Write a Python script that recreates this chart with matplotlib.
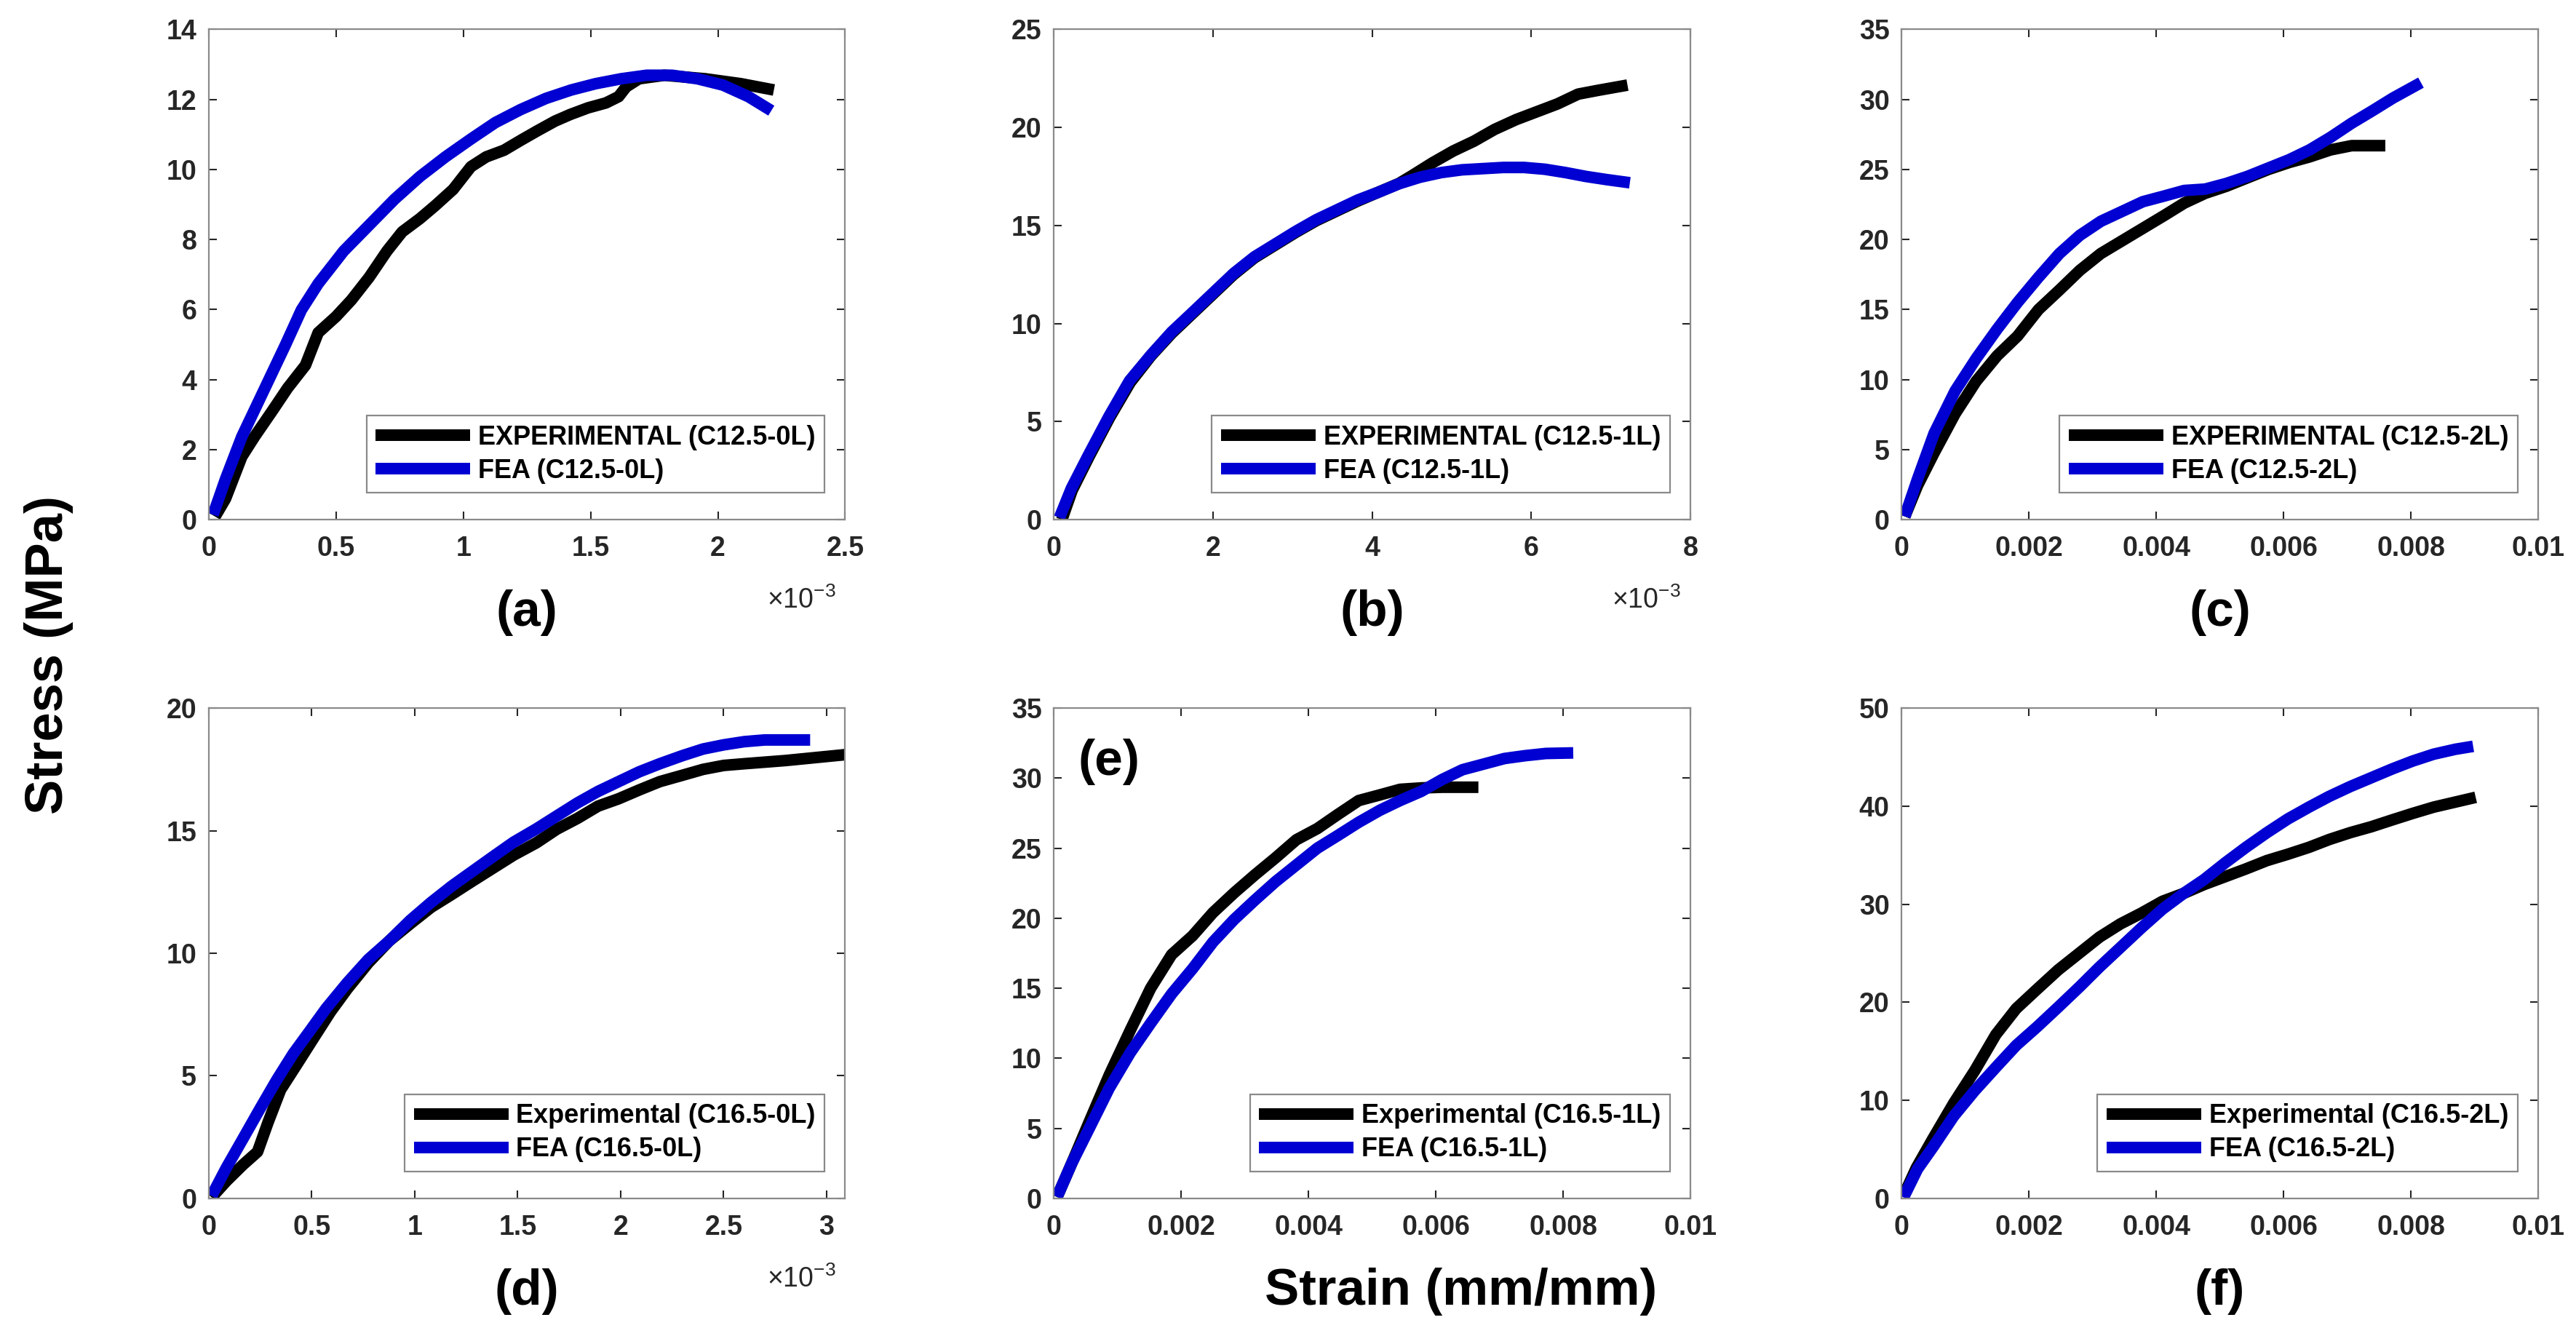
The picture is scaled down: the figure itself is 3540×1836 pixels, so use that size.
import matplotlib
matplotlib.use("Agg")
import matplotlib.pyplot as plt
from matplotlib.ticker import FuncFormatter, MultipleLocator

plt.rcParams['font.family'] = ['Liberation Sans', 'DejaVu Sans']
plt.rcParams['mathtext.fontset'] = 'custom'
plt.rcParams['mathtext.rm'] = 'Liberation Sans'

# ---------------- data (strain in mm/mm, stress in MPa) ----------------
# (a) C12.5-0L
a_exp_x = [0.000025, 0.000066, 0.00013, 0.00018, 0.00025, 0.00031, 0.00038, 0.00043, 0.0005, 0.00056,
           0.00063, 0.0007, 0.00076, 0.00083, 0.00089, 0.00096, 0.00103, 0.00109, 0.00116, 0.001225,
           0.00129, 0.00136, 0.00142, 0.00149, 0.00156, 0.00161, 0.00164, 0.00169, 0.00179, 0.00195,
           0.00209, 0.00222]
a_exp_y = [0.09, 0.6, 1.8, 2.37, 3.11, 3.76, 4.41, 5.34, 5.8, 6.27,
           6.92, 7.67, 8.22, 8.6, 8.97, 9.43, 10.08, 10.36, 10.55, 10.83,
           11.1, 11.38, 11.57, 11.76, 11.9, 12.08, 12.36, 12.59, 12.69, 12.59,
           12.45, 12.27]
a_fea_x = [0.000017, 0.000066, 0.00013, 0.000215, 0.0003, 0.000364, 0.00043, 0.00053, 0.00063, 0.00073,
           0.00083, 0.00093, 0.00103, 0.001126, 0.001225, 0.001325, 0.001424, 0.00152, 0.00162, 0.00172,
           0.00182, 0.00192, 0.00202, 0.00212, 0.00221]
a_fea_y = [0.14, 1.16, 2.37, 3.67, 4.97, 5.99, 6.74, 7.67, 8.41, 9.15,
           9.8, 10.36, 10.87, 11.34, 11.71, 12.03, 12.27, 12.45, 12.59, 12.69,
           12.69, 12.59, 12.41, 12.08, 11.68]

# (b) C12.5-1L
b_exp_x = [0.0001, 0.00023, 0.00044, 0.0007, 0.00096, 0.00122, 0.00148, 0.00174, 0.002, 0.00226,
           0.00252, 0.00278, 0.00304, 0.0033, 0.00356, 0.00382, 0.00408, 0.00434, 0.0045, 0.00476,
           0.00502, 0.00528, 0.00554, 0.00581, 0.00607, 0.00633, 0.00659, 0.00685, 0.00721]
b_exp_y = [0.0, 1.5, 3.2, 5.2, 7.0, 8.35, 9.5, 10.5, 11.5, 12.5,
           13.35, 14.0, 14.65, 15.25, 15.75, 16.25, 16.7, 17.15, 17.54, 18.2,
           18.8, 19.3, 19.9, 20.4, 20.8, 21.2, 21.7, 21.9, 22.16]
b_fea_x = [0.00007, 0.00022, 0.00043, 0.00069, 0.00095, 0.00122, 0.00148, 0.00174, 0.002, 0.00226,
           0.00252, 0.00278, 0.00304, 0.0033, 0.00356, 0.00382, 0.00408, 0.00434, 0.0046, 0.00487,
           0.00513, 0.00539, 0.00565, 0.00591, 0.00617, 0.00643, 0.00669, 0.00695, 0.00724]
b_fea_y = [0.1, 1.6, 3.26, 5.25, 7.08, 8.4, 9.57, 10.56, 11.56, 12.56,
           13.4, 14.05, 14.7, 15.3, 15.8, 16.3, 16.7, 17.13, 17.46, 17.7,
           17.84, 17.9, 17.96, 17.96, 17.87, 17.7, 17.5, 17.34, 17.18]

# (c) C12.5-2L
c_exp_x = [0.00005, 0.00025, 0.00051, 0.00084, 0.00117, 0.0015, 0.00182, 0.00215, 0.00248, 0.0028,
           0.00313, 0.00346, 0.00379, 0.00412, 0.00444, 0.00477, 0.0051, 0.00543, 0.00576, 0.00609,
           0.00641, 0.00674, 0.00707, 0.0076]
c_exp_y = [0.23, 2.44, 4.77, 7.56, 9.88, 11.7, 13.1, 15.0, 16.4, 17.8,
           19.0, 19.9, 20.8, 21.7, 22.6, 23.3, 23.8, 24.4, 25.0, 25.5,
           25.9, 26.4, 26.7, 26.7]
c_fea_x = [0.00005, 0.00025, 0.00051, 0.00084, 0.00117, 0.0015, 0.00182, 0.00215, 0.00248, 0.0028,
           0.00313, 0.00346, 0.00379, 0.00412, 0.00444, 0.00477, 0.0051, 0.00543, 0.00576, 0.00609,
           0.00641, 0.00674, 0.00707, 0.0074, 0.00772, 0.00816]
c_fea_y = [0.23, 2.9, 6.16, 9.19, 11.5, 13.6, 15.5, 17.3, 19.0, 20.3,
           21.3, 22.0, 22.7, 23.1, 23.5, 23.6, 24.0, 24.5, 25.1, 25.7,
           26.4, 27.3, 28.3, 29.2, 30.1, 31.2]

# (d) C16.5-0L
d_exp_x = [0.000014, 0.000085, 0.000166, 0.000237, 0.000288, 0.000349, 0.00043, 0.000511, 0.000592, 0.000673,
           0.000775, 0.000876, 0.000978, 0.001079, 0.00118, 0.00128, 0.00138, 0.00148, 0.00159, 0.00169,
           0.00179, 0.00189, 0.00199, 0.00209, 0.00219, 0.0023, 0.0024, 0.0025, 0.0026, 0.0028,
           0.00309]
d_exp_y = [0.04, 0.7, 1.37, 1.9, 3.1, 4.43, 5.49, 6.56, 7.62, 8.55,
           9.61, 10.5, 11.2, 11.87, 12.4, 12.94, 13.47, 14.0, 14.5, 15.06,
           15.5, 16.0, 16.3, 16.66, 17.0, 17.26, 17.5, 17.66, 17.73, 17.86,
           18.1]
d_fea_x = [0.000014, 0.000085, 0.000166, 0.000247, 0.00033, 0.00041, 0.00049, 0.00057, 0.000673, 0.000775,
           0.000876, 0.000978, 0.001079, 0.00118, 0.00128, 0.00138, 0.00148, 0.00159, 0.00169, 0.00179,
           0.00189, 0.00199, 0.00209, 0.00219, 0.0023, 0.0024, 0.0025, 0.0026, 0.0027, 0.00292]
d_fea_y = [0.1, 1.24, 2.43, 3.63, 4.83, 5.9, 6.82, 7.75, 8.8, 9.75,
           10.5, 11.34, 12.07, 12.74, 13.34, 13.94, 14.53, 15.07, 15.6, 16.13,
           16.6, 17.0, 17.4, 17.73, 18.06, 18.33, 18.5, 18.63, 18.7, 18.7]

# (e) C16.5-1L
e_exp_x = [0.00005, 0.00028, 0.00054, 0.00087, 0.0012, 0.00152, 0.00185, 0.00218, 0.0025, 0.00283,
           0.00316, 0.00348, 0.00381, 0.00414, 0.00446, 0.00479, 0.00512, 0.00544, 0.00577, 0.0061,
           0.00667]
e_exp_y = [0.1, 2.5, 5.3, 8.8, 12.0, 15.0, 17.4, 18.75, 20.4, 21.8,
           23.1, 24.3, 25.6, 26.4, 27.4, 28.4, 28.8, 29.2, 29.3, 29.35,
           29.35]
e_fea_x = [0.00005, 0.00028, 0.00054, 0.00087, 0.0012, 0.00152, 0.00185, 0.00218, 0.0025, 0.00283,
           0.00316, 0.00348, 0.00381, 0.00414, 0.00446, 0.00479, 0.00512, 0.00544, 0.00577, 0.0061,
           0.00642, 0.00675, 0.00708, 0.0074, 0.00773, 0.00816]
e_fea_y = [0.1, 2.5, 4.86, 7.87, 10.4, 12.5, 14.6, 16.4, 18.3, 19.9,
           21.3, 22.6, 23.8, 25.0, 25.9, 26.85, 27.7, 28.4, 29.05, 29.9,
           30.6, 31.0, 31.4, 31.6, 31.76, 31.8]

# (f) C16.5-2L
f_exp_x = [0.00003, 0.00023, 0.00049, 0.00082, 0.00115, 0.00148, 0.0018, 0.00213, 0.00246, 0.00279,
           0.00311, 0.00344, 0.00377, 0.0041, 0.00443, 0.00475, 0.00508, 0.00541, 0.00574, 0.00607,
           0.0064, 0.00672, 0.00705, 0.00738, 0.00771, 0.00803, 0.00836, 0.00902]
f_exp_y = [0.27, 3.1, 6.07, 9.72, 13.04, 16.7, 19.35, 21.34, 23.3, 25.0,
           26.65, 28.0, 29.1, 30.3, 31.1, 32.0, 32.8, 33.6, 34.45, 35.1,
           35.8, 36.6, 37.3, 37.9, 38.6, 39.26, 39.9, 40.9]
f_fea_x = [0.00003, 0.00025, 0.0005, 0.00082, 0.00115, 0.0015, 0.0018, 0.00213, 0.00246, 0.0028,
           0.00311, 0.00344, 0.00377, 0.0041, 0.00443, 0.00475, 0.00508, 0.00541, 0.00574, 0.00607,
           0.0064, 0.00672, 0.00705, 0.00738, 0.00771, 0.00803, 0.00836, 0.0087, 0.00898]
f_fea_y = [0.1, 3.0, 5.3, 8.4, 11.0, 13.5, 15.6, 17.5, 19.5, 21.6,
           23.6, 25.6, 27.6, 29.5, 31.1, 32.5, 34.2, 35.8, 37.3, 38.7,
           39.9, 41.0, 42.0, 42.9, 43.8, 44.6, 45.3, 45.8, 46.1]

panel_tags = ['(a)', '(b)', '(c)', '(d)', '(e)', '(f)']
exp_labels = ['EXPERIMENTAL (C12.5-0L)', 'EXPERIMENTAL (C12.5-1L)', 'EXPERIMENTAL (C12.5-2L)',
              'Experimental (C16.5-0L)', 'Experimental (C16.5-1L)', 'Experimental (C16.5-2L)']
fea_labels = ['FEA (C12.5-0L)', 'FEA (C12.5-1L)', 'FEA (C12.5-2L)',
              'FEA (C16.5-0L)', 'FEA (C16.5-1L)', 'FEA (C16.5-2L)']
x_limits = [(0, 0.0025), (0, 0.008), (0, 0.01), (0, 0.00309), (0, 0.01), (0, 0.01)]
x_steps = [0.0005, 0.002, 0.002, 0.0005, 0.002, 0.002]
x_scaled = [True, True, False, True, False, False]
y_limits = [(0, 14), (0, 25), (0, 35), (0, 20), (0, 35), (0, 50)]
y_steps = [2, 5, 5, 5, 5, 10]

exp_x = [a_exp_x, b_exp_x, c_exp_x, d_exp_x, e_exp_x, f_exp_x]
exp_y = [a_exp_y, b_exp_y, c_exp_y, d_exp_y, e_exp_y, f_exp_y]
fea_x = [a_fea_x, b_fea_x, c_fea_x, d_fea_x, e_fea_x, f_fea_x]
fea_y = [a_fea_y, b_fea_y, c_fea_y, d_fea_y, e_fea_y, f_fea_y]

# ---------------- layout ----------------
fig = plt.figure(figsize=(35.41, 18.36), dpi=100)
fig.patch.set_facecolor('white')

col_left = [0.081, 0.409, 0.738]
col_w = 0.247
row_bottom = [0.611, 0.103]
row_h = 0.367

BLUE = '#0000d2'
GRAY = '#8a8a8a'
TXT = '#262626'
LW = 11.5

for i in range(6):
    r, c = divmod(i, 3)
    ax = fig.add_axes([col_left[c], row_bottom[r], col_w, row_h])
    ax.plot(exp_x[i], exp_y[i], color='black', lw=LW, solid_capstyle='butt',
            solid_joinstyle='round', label=exp_labels[i])
    ax.plot(fea_x[i], fea_y[i], color=BLUE, lw=LW, solid_capstyle='butt',
            solid_joinstyle='round', label=fea_labels[i])
    ax.set_xlim(*x_limits[i])
    ax.set_ylim(*y_limits[i])
    ax.xaxis.set_major_locator(MultipleLocator(x_steps[i]))
    ax.yaxis.set_major_locator(MultipleLocator(y_steps[i]))
    if x_scaled[i]:
        ax.xaxis.set_major_formatter(FuncFormatter(lambda v, p: '%g' % round(v * 1e3, 6)))
        ax.text(0.985, -0.165, r'$\times\mathregular{10^{-3}}$', transform=ax.transAxes,
                ha='right', va='center', fontsize=27, color=TXT)
    else:
        ax.xaxis.set_major_formatter(FuncFormatter(lambda v, p: '%g' % round(v, 6)))
    ax.yaxis.set_major_formatter(FuncFormatter(lambda v, p: '%g' % round(v, 6)))
    for s in ax.spines.values():
        s.set_color(GRAY)
        s.set_linewidth(1.6)
    ax.tick_params(direction='in', length=8, width=1.5, color=TXT, top=True, right=True,
                   labelsize=27, labelcolor=TXT)
    ax.tick_params(axis='x', pad=16)
    ax.tick_params(axis='y', pad=12)
    for lab in ax.get_xticklabels() + ax.get_yticklabels():
        lab.set_fontweight('bold')
    leg = ax.legend(loc='lower right', bbox_to_anchor=(0.968, 0.055), borderaxespad=0,
                    prop={'weight': 'bold', 'size': 26}, frameon=True,
                    fancybox=False, framealpha=1, edgecolor=GRAY, handlelength=3.6,
                    handletextpad=0.3, borderpad=0.35, labelspacing=0.3)
    leg.get_frame().set_linewidth(1.6)
    if i == 4:
        ax.text(0.087, 0.89, panel_tags[i], transform=ax.transAxes, ha='center', va='center',
                fontsize=50, fontweight='bold', color='black')
        ax.text(0.64, -0.19, 'Strain (mm/mm)', transform=ax.transAxes, ha='center',
                va='center', fontsize=51, fontweight='bold', color='black')
    else:
        ax.text(0.5, -0.19, panel_tags[i], transform=ax.transAxes, ha='center', va='center',
                fontsize=50, fontweight='bold', color='black')

fig.text(0.019, 0.51, 'Stress (MPa)', rotation=90, ha='center', va='center',
         fontsize=52, fontweight='bold', color='black')

fig.savefig('out.png', dpi=100, facecolor='white')
